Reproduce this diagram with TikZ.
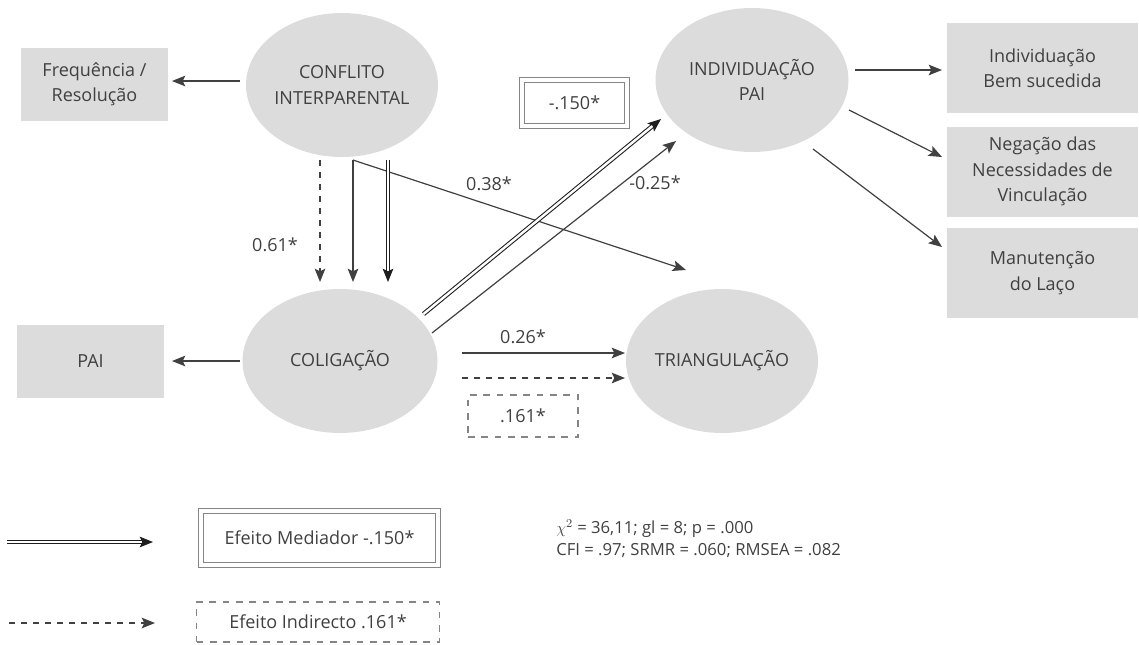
\documentclass[tikz,border=0pt]{standalone}
\usepackage{fontspec}
\setmainfont{Open Sans}
\usetikzlibrary{shapes.geometric,arrows.meta}
\definecolor{fillg}{HTML}{DCDCDC}
\definecolor{txt}{HTML}{404040}
\definecolor{arr}{HTML}{404040}
\definecolor{dbl}{HTML}{1E1E1E}
\definecolor{brd}{HTML}{858585}
\begin{document}
\begin{tikzpicture}[x=0.75pt,y=-0.75pt,
  lat/.style={ellipse, fill=fillg, inner sep=0pt, outer sep=0pt, minimum width=144pt, minimum height=108pt, align=center, text=txt, font=\fontsize{13.5}{19}\selectfont},
  obs/.style={rectangle, fill=fillg, inner sep=0pt, outer sep=0pt, minimum width=110.25pt, minimum height=54.75pt, align=center, text=txt, font=\fontsize{13.5}{19}\selectfont},
  obsr/.style={obs, minimum width=143.25pt, minimum height=67.5pt},
  lbl/.style={text=txt, font=\fontsize{13.5}{17}\selectfont, inner sep=0pt},
  tipx/.style={-{Stealth[length=10pt,width=8pt,inset=2pt]}},
  arrow/.style={tipx, draw=arr, line width=0.9pt},
  dasharrow/.style={arrow, dash pattern=on 4.5pt off 4.5pt},
  dblarrow/.style={tipx, draw=dbl, double=white, line width=0.8pt, double distance=1.8pt},
  dblbox/.style={draw=brd, double=white, line width=1.2pt, double distance=2.4pt, inner sep=0pt, text=txt, font=\fontsize{13.5}{17}\selectfont},
  dashbox/.style={draw=brd, line width=0.9pt, dash pattern=on 5pt off 5pt, inner sep=0pt, text=txt, font=\fontsize{13.5}{17}\selectfont}
]
\useasboundingbox (0,0) rectangle (1139,644);

% latent variables
\node[lat] (conf) at (342,85) {CONFLITO\\INTERPARENTAL};
\node[lat, minimum width=146.25pt] (colig) at (340,361) {COLIGAÇÃO};
\node[lat] (tri) at (722,361) {TRIANGULAÇÃO};
\node[lat, minimum width=144.75pt] (ind) at (752,80) {INDIVIDUAÇÃO\\PAI};

% observed
\node[obs] (freq) at (94.5,84.5) {Frequência /\\Resolução};
\node[obs] (pai) at (90.5,361.5) {PAI};
\node[obsr] (b1) at (1042.5,68) {Individuação\\Bem sucedida};
\node[obsr] (b2) at (1042.5,171.5) {Negação das\\Necessidades de\\Vinculação};
\node[obsr] (b3) at (1042.5,273) {Manutenção\\do Laço};

% connectors
\draw[arrow] ([shift={(-102,-4)}]conf.center) -- ([shift={(77.5,-3.5)}]freq.center);
\draw[arrow] ([shift={(-100,0)}]colig.center) -- ([shift={(81.5,-0.5)}]pai.center);
\draw[dasharrow] ([shift={(-22,75)}]conf.center) -- ([shift={(-20,-79)}]colig.center);
\draw[arrow] ([shift={(11,75)}]conf.center) -- ([shift={(13,-79)}]colig.center);
\draw[arrow] ([shift={(11,75)}]conf.center) -- ([shift={(-36,-91)}]tri.center);
\draw[dblarrow] ([shift={(46,75)}]conf.center) -- ([shift={(48,-79)}]colig.center);
\draw[dblarrow] ([shift={(83.5,-47)}]colig.center) -- ([shift={(-91,39)}]ind.center);
\draw[arrow, draw=dbl!85] ([shift={(92,-28)}]colig.center) -- ([shift={(-76,61)}]ind.center);
\draw[arrow] ([shift={(122,-8)}]colig.center) -- ([shift={(-97,-8)}]tri.center);
\draw[dasharrow] ([shift={(122,17)}]colig.center) -- ([shift={(-97,17)}]tri.center);
\draw[arrow] ([shift={(103,-10)}]ind.center) -- ([shift={(-100.5,2)}]b1.center);
\draw[arrow] ([shift={(97,30)}]ind.center) -- ([shift={(-100.5,-14.5)}]b2.center);
\draw[arrow] ([shift={(61,69)}]ind.center) -- ([shift={(-100.5,-26)}]b3.center);

% labels
\node[lbl] (l061) at (275,245) {0.61*};
\node[lbl] (l038) at (489,184) {0.38*};
\node[lbl] (l025) at (655,183) {-0.25*};
\node[lbl] (l026) at (523,337) {0.26*};
\node[dblbox, minimum width=78.75pt, minimum height=34.5pt] (med) at (574.5,103) {-.150*};
\node[dashbox, minimum width=82.5pt, minimum height=31.5pt] (ind161) at (523,416) {.161*};

% legend
\coordinate (lg1s) at (7,542);
\coordinate (lg1e) at (153,542);
\coordinate (lg2s) at (9,623);
\coordinate (lg2e) at (155,623);
\draw[dblarrow] (lg1s) -- (lg1e);
\draw[dasharrow] (lg2s) -- (lg2e);
\node[dblbox, minimum width=177.75pt, minimum height=40.5pt] (legmed) at (319.5,538) {Efeito Mediador -.150*};
\node[dashbox, minimum width=182.25pt, minimum height=30pt] (legind) at (318,622) {Efeito Indirecto .161*};

\node[text=txt, anchor=west, align=left, inner sep=0pt, font=\fontsize{12.5}{16.5}\selectfont] (stats) at (556,539)
  {$\chi^{2}$ = 36,11; gl = 8; p = .000\\CFI = .97; SRMR = .060; RMSEA = .082};
\end{tikzpicture}
\end{document}
